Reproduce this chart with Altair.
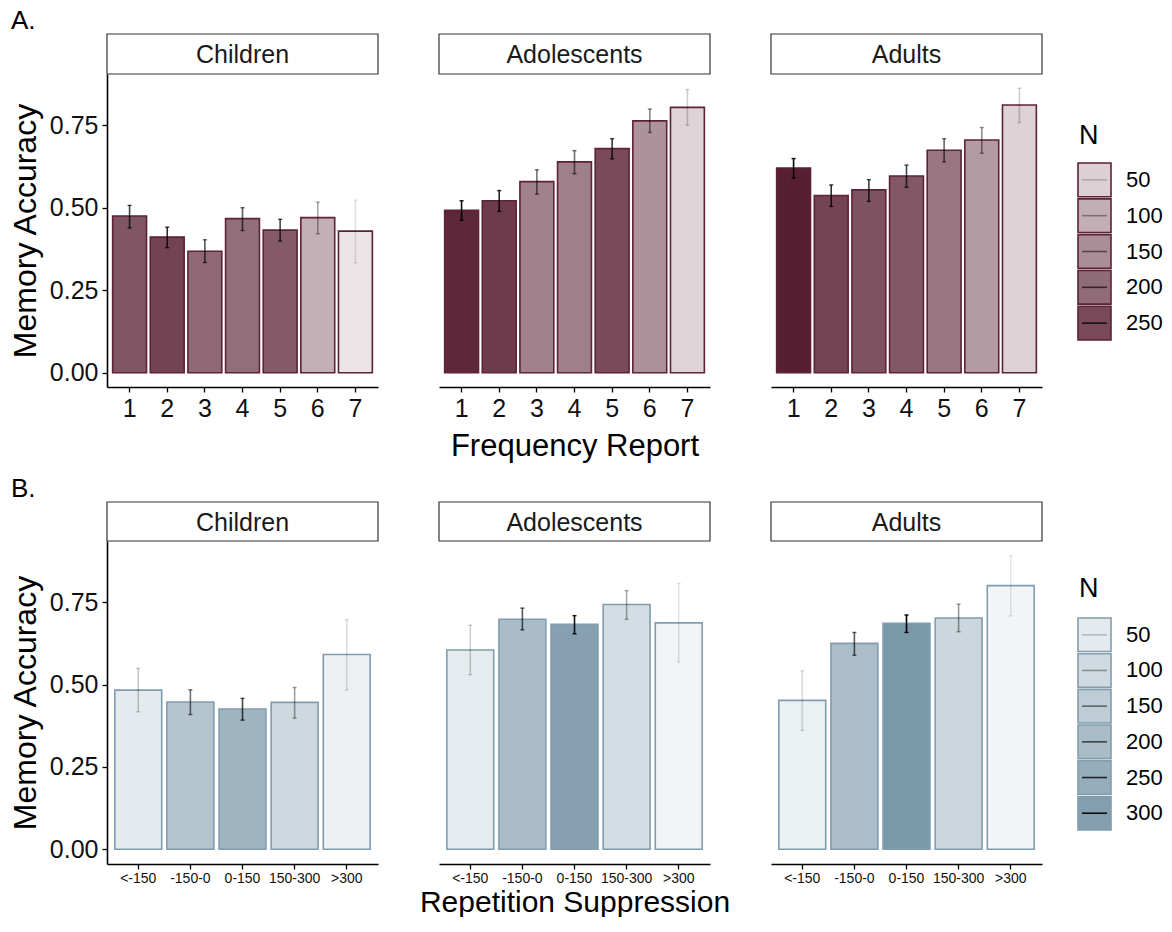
import altair as alt
import pandas as pd

FONT = "Liberation Sans"

groups = ["Children", "Adolescents", "Adults"]

# ---------------- Panel A: Frequency Report ----------------
freq_levels = ["1", "2", "3", "4", "5", "6", "7"]
a_children_acc = [0.475, 0.411, 0.368, 0.467, 0.432, 0.470, 0.429]
a_children_lo = [0.439, 0.379, 0.334, 0.431, 0.399, 0.421, 0.333]
a_children_hi = [0.507, 0.441, 0.403, 0.500, 0.465, 0.517, 0.523]
a_children_n = [231, 258, 204, 196, 225, 99, 19]

a_adol_acc = [0.492, 0.521, 0.579, 0.639, 0.679, 0.763, 0.804]
a_adol_lo = [0.462, 0.489, 0.541, 0.603, 0.648, 0.728, 0.750]
a_adol_hi = [0.521, 0.552, 0.615, 0.673, 0.709, 0.799, 0.858]
a_adol_n = [299, 270, 167, 171, 247, 143, 46]

a_adult_acc = [0.620, 0.537, 0.554, 0.596, 0.674, 0.705, 0.811]
a_adult_lo = [0.590, 0.504, 0.519, 0.562, 0.639, 0.665, 0.758]
a_adult_hi = [0.649, 0.569, 0.585, 0.629, 0.709, 0.743, 0.862]
a_adult_n = [311, 257, 237, 227, 182, 130, 48]

a_legend_breaks = [50, 100, 150, 200, 250]

# ---------------- Panel B: Repetition Suppression ----------------
rs_levels = ["<-150", "-150-0", "0-150", "150-300", ">300"]
b_children_acc = [0.483, 0.447, 0.426, 0.446, 0.591]
b_children_lo = [0.417, 0.409, 0.392, 0.398, 0.483]
b_children_hi = [0.549, 0.484, 0.458, 0.491, 0.697]
b_children_n = [52, 171, 226, 107, 28]

b_adol_acc = [0.605, 0.698, 0.683, 0.743, 0.687]
b_adol_lo = [0.530, 0.666, 0.654, 0.698, 0.568]
b_adol_hi = [0.680, 0.732, 0.709, 0.785, 0.807]
b_adol_n = [47, 203, 291, 94, 18]

b_adult_acc = [0.452, 0.625, 0.686, 0.702, 0.800]
b_adult_lo = [0.361, 0.589, 0.658, 0.660, 0.708]
b_adult_hi = [0.542, 0.658, 0.711, 0.744, 0.891]
b_adult_n = [32, 198, 319, 115, 15]

b_legend_breaks = [50, 100, 150, 200, 250, 300]


def build_df(levels, accs, los, his, ns):
    rows = []
    for g, acc, lo, hi, n in zip(groups, accs, los, his, ns):
        for c, a, l, h, k in zip(levels, acc, lo, hi, n):
            rows.append({"group": g, "cat": c, "acc": a, "lo": l, "hi": h, "n": k})
    return pd.DataFrame(rows)


df_a = build_df(freq_levels,
                [a_children_acc, a_adol_acc, a_adult_acc],
                [a_children_lo, a_adol_lo, a_adult_lo],
                [a_children_hi, a_adol_hi, a_adult_hi],
                [a_children_n, a_adol_n, a_adult_n])
df_b = build_df(rs_levels,
                [b_children_acc, b_adol_acc, b_adult_acc],
                [b_children_lo, b_adol_lo, b_adult_lo],
                [b_children_hi, b_adol_hi, b_adult_hi],
                [b_children_n, b_adol_n, b_adult_n])

PW = 271  # panel width
LEG_SHIFT = -25  # legend keys sit ~35px right of the last panel (column gap is 61)


def ydomain(df):
    top = float(df["hi"].max())
    pad = 0.05 * top
    return [-pad, top + pad]


def panel(df, group, levels, height, fill, stroke, nscale, xlab_size,
          show_y, xtitle, strip_h, title_pad, label_pad, title_size, tag=None):
    d = df[df["group"] == group]
    xaxis_kw = dict(labelAngle=0, labelFontSize=xlab_size, labelColor="#111111",
                    labelPadding=label_pad, tickColor="black", tickSize=5, tickWidth=1.3,
                    domainColor="black", domainWidth=1.6, labelFont=FONT)
    if xtitle:
        xaxis_kw.update(title=xtitle, titleFontSize=title_size, titleFontWeight="normal",
                        titleColor="black", titleFont=FONT, titlePadding=title_pad)
    else:
        xaxis_kw.update(title=None)
    x = alt.X("cat:N", sort=levels,
              scale=alt.Scale(domain=levels, paddingInner=0.1, paddingOuter=0.15),
              axis=alt.Axis(**xaxis_kw))
    ysc = alt.Scale(domain=ydomain(df), nice=False, zero=False)
    if show_y:
        yax = alt.Axis(values=[0, 0.25, 0.5, 0.75], format=".2f", labelFontSize=25,
                       labelColor="#111111", labelFont=FONT, labelPadding=4,
                       tickColor="black", tickSize=5, tickWidth=1.3,
                       domainColor="black", domainWidth=1.6, grid=False,
                       title="Memory Accuracy", titleFontSize=32,
                       titleFontWeight="normal", titleColor="black", titleFont=FONT,
                       titlePadding=7)
    else:
        yax = None
    y = alt.Y("acc:Q", scale=ysc, axis=yax)

    base = alt.Chart(d)
    bars = base.mark_bar(fill=fill, stroke=stroke, strokeWidth=1.6).encode(
        x=x, y=y, y2=alt.datum(0),
        fillOpacity=alt.FillOpacity("n:Q", scale=nscale, legend=None))
    op = alt.Opacity("n:Q", scale=nscale, legend=None)
    err = base.mark_rule(color="black", strokeWidth=1.6).encode(
        x=x, y=alt.Y("lo:Q", scale=ysc), y2="hi:Q", opacity=op)
    cap_hi = base.mark_tick(color="black", size=4, thickness=1.4).encode(
        x=x, y=alt.Y("hi:Q", scale=ysc), opacity=op)
    cap_lo = base.mark_tick(color="black", size=4, thickness=1.4).encode(
        x=x, y=alt.Y("lo:Q", scale=ysc), opacity=op)

    sd = pd.DataFrame({"g": [group]})
    strip_rect = alt.Chart(sd).mark_rect(fill="white", stroke="#333333", strokeWidth=1.2).encode(
        x=alt.value(0), x2=alt.value(PW), y=alt.value(-strip_h), y2=alt.value(0))
    strip_text = alt.Chart(sd).mark_text(fontSize=25, font=FONT, color="#1a1a1a",
                                          baseline="middle", align="center").encode(
        x=alt.value(PW / 2), y=alt.value(-strip_h / 2 + 1), text="g:N")
    layers = [bars, err, cap_hi, cap_lo, strip_rect, strip_text]
    if tag:
        td = pd.DataFrame({"t": [tag]})
        layers.append(alt.Chart(td).mark_text(fontSize=26, font=FONT, color="black",
                                              align="left", baseline="middle").encode(
            x=alt.value(-96), y=alt.value(-strip_h - 13), text="t:N"))
    return alt.layer(*layers).properties(width=PW, height=height)


def legend(breaks, nscale, fill, stroke, height, key_range, title_y):
    labs = [str(b) for b in breaks]
    ld = pd.DataFrame({"n": breaks, "lab": labs})
    ysc = alt.Scale(domain=labs, range=key_range, paddingInner=0.06, paddingOuter=0)
    keys = alt.Chart(ld).mark_rect(fill=fill, stroke=stroke, strokeWidth=1.6).encode(
        x=alt.value(LEG_SHIFT), x2=alt.value(LEG_SHIFT + 33),
        y=alt.Y("lab:N", sort=labs, scale=ysc, axis=None),
        fillOpacity=alt.FillOpacity("n:Q", scale=nscale, legend=None))
    lines = alt.Chart(ld).mark_rule(color="black", strokeWidth=1.6).encode(
        x=alt.value(LEG_SHIFT + 4), x2=alt.value(LEG_SHIFT + 29),
        y=alt.Y("lab:N", sort=labs, scale=ysc, axis=None, bandPosition=0.5),
        opacity=alt.Opacity("n:Q", scale=nscale, legend=None))
    texts = alt.Chart(ld).mark_text(fontSize=22, font=FONT, color="black",
                                    align="left", baseline="middle").encode(
        x=alt.value(LEG_SHIFT + 48),
        y=alt.Y("lab:N", sort=labs, scale=ysc, axis=None, bandPosition=0.5),
        text="lab:N")
    title = alt.Chart(pd.DataFrame({"t": ["N"]})).mark_text(
        fontSize=27, font=FONT, color="black", align="left", baseline="middle").encode(
        x=alt.value(LEG_SHIFT + 1), y=alt.value(title_y), text="t:N")
    return alt.layer(keys, lines, texts, title).properties(width=40, height=height)


def row(df, levels, height, fill, stroke, breaks, xlab_size, xtitle, strip_h,
        key_range, title_y, title_pad, label_pad, title_size, tag):
    nmin = float(df["n"].min())
    nmax = float(df["n"].max())
    nscale = alt.Scale(domain=[nmin, nmax], range=[0.1, 1])
    cells = [
        panel(df, g, levels, height, fill, stroke, nscale, xlab_size,
              show_y=(i == 0), xtitle=(xtitle if i == 1 else None),
              strip_h=strip_h, title_pad=title_pad, label_pad=label_pad,
              title_size=title_size, tag=(tag if i == 0 else None))
        for i, g in enumerate(groups)
    ]
    cells.append(legend(breaks, nscale, fill, stroke, height, key_range, title_y))
    return cells


top_cells = row(df_a, freq_levels, 313, "#541a2e", "#5e2237", a_legend_breaks, 25,
                "Frequency Report", 40, [89, 266], 62, 10, 4, 31, "A.")
bottom_cells = row(df_b, rs_levels, 323, "#7b98aa", "#809daf", b_legend_breaks, 14,
                   "Repetition Suppression", 39, [77, 289], 48, 2, 2, 30, "B.")

chart = alt.concat(*top_cells, *bottom_cells, columns=4,
                   spacing={"row": 154, "column": 61}, bounds="flush").configure(
    font=FONT, padding={"left": 1, "top": 0, "right": 0, "bottom": 0}
).configure_view(strokeWidth=0)

chart.save("out.html", embed_options={"renderer": "svg", "actions": False})
